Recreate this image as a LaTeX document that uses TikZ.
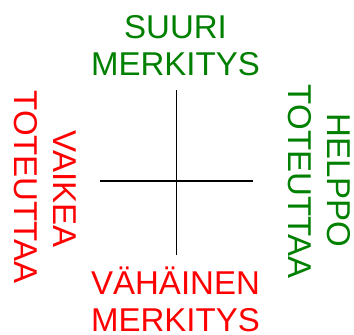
\documentclass[tikz,border=0pt]{standalone}
\usepackage{fontspec}
\setmainfont{Liberation Sans}
\definecolor{mgreen}{RGB}{0,128,0}
\definecolor{mred}{RGB}{255,0,0}
\begin{document}
\begin{tikzpicture}[x=1pt,y=-1pt,
  lbl/.style={inner sep=0pt, anchor=base, text depth=0pt, font=\fontsize{33}{38}\selectfont},
  good/.style={lbl, text=mgreen},
  bad/.style={lbl, text=mred},
  axis/.style={draw=black, line width=1.1pt}]
\useasboundingbox (0,0) rectangle (354,335);
% cross
\coordinate (top) at (176.5,90);
\coordinate (bottom) at (176.5,255);
\coordinate (left) at (100,181);
\coordinate (right) at (253,181);
\draw[axis] (top) -- (bottom);
\draw[axis] (left) -- (right);
% top
\node[good] (t1) at (175.5,38) {SUURI};
\node[good] (t2) at (175.5,75) {MERKITYS};
% bottom
\node[bad] (b1) at (175.5,294) {VÄHÄINEN};
\node[bad] (b2) at (175.5,331) {MERKITYS};
% left
\node[bad, rotate=-90] (l1) at (53,189) {VAIKEA};
\node[bad, rotate=-90] (l2) at (15,187) {TOTEUTTAA};
% right
\node[good, rotate=-90] (r1) at (327,180.5) {HELPPO};
\node[good, rotate=-90] (r2) at (288,181.5) {TOTEUTTAA};
\end{tikzpicture}
\end{document}
